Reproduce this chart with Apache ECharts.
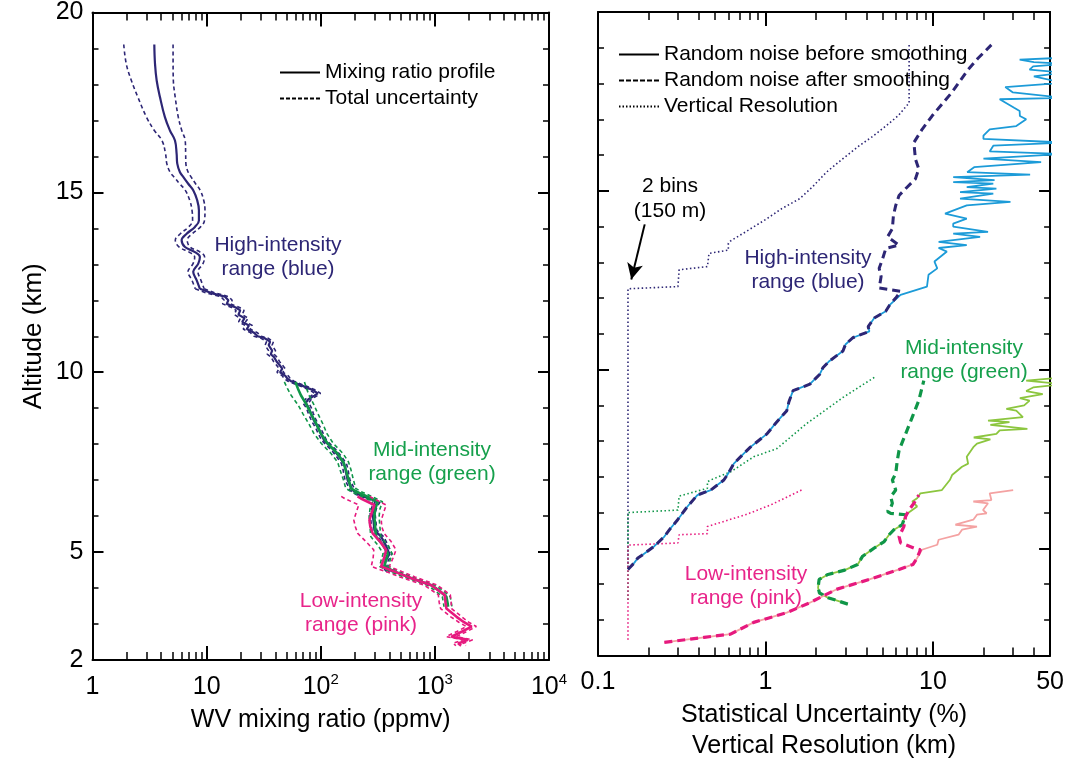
<!DOCTYPE html>
<html><head><meta charset="utf-8">
<script src="https://cdn.jsdelivr.net/npm/echarts@6/dist/echarts.min.js"></script>
<style>html,body{margin:0;padding:0;background:#fff}#c{width:1067px;height:767px}</style>
</head><body><div id="c"></div><script>
// ---------- tick values / labels ----------
const xLeftLabels = [1, 10, 100, 1000, 10000];
const xLeftMajor = [10, 100, 1000];
const xLeftMinor = [2,3,4,5,6,7,8,9,20,30,40,50,60,70,80,90,200,300,400,500,600,700,800,900,2000,3000,4000,5000,6000,7000,8000,9000];
const xRightLabels = [0.1, 1, 10, 50];
const xRightMajor = [1, 10];
const xRightMinor = [0.2,0.3,0.4,0.5,0.6,0.7,0.8,0.9,2,3,4,5,6,7,8,9,20,30,40];
const yLabels = [2, 5, 10, 15, 20];
const yMajor = [5, 10, 15, 20];
const yMinor = [3,4,6,7,8,9,11,12,13,14,16,17,18,19];

// ---------- left panel: WV mixing ratio profiles [altitude km, ppmv, total uncertainty %] ----------
const highProfileUpper = [
 [19.11,3.48,46],[18.57,3.53,44],[18.11,3.65,40],[17.65,3.9,36],[17.09,4.31,31],[16.72,4.77,27],[16.44,5.28,23],[16.07,5.46,20],
 [15.8,5.53,19],[15.56,5.84,18],[15.43,6.24,17],[15.24,6.9,16],[15.06,7.63,15],[14.78,8.27,14],[14.5,8.56,13],[14.22,8.56,12],
 [14.04,7.9,12],[13.85,6.68,12],[13.67,6.04,12],[13.48,6.46,11],[13.34,7.9,11],[13.2,8.73,10],[13.02,8.45,10],[12.79,7.63,10],
 [12.56,8.17,9],[12.32,8.73,9]
];
const highProfileLower = [
 [12.32,8.73,9],[12.2,11,9],[12.1,14.5,8],
 [12.0,15.5,8],[11.9,15,8],[11.8,18,8],[11.72,19.7,8],[11.6,19,8],[11.5,21.5,8],[11.4,20.5,7],[11.3,23.5,7],
 [11.2,22.5,7],[11.1,26,7],[11.0,28,7],[10.95,32,7],[10.85,36,7],[10.75,35,7],[10.6,37.5,7],[10.5,36.5,7],
 [10.42,39,6],[10.3,41,6],[10.2,43.5,6],[10.1,46,6],[10.0,44,6],[9.9,49,6],[9.82,51,6],[9.75,55,6],
 [9.7,60,6],[9.6,72,6],[9.5,86,6],[9.41,94,6],[9.35,88,6],[9.25,78,6],[9.15,74,6],[9.0,79,5],
 [8.85,82,5],[8.7,86,5],[8.6,89,5],[8.48,94,5],[8.3,100,5],[8.11,107,5],[7.95,120,5],[7.83,131,5],
 [7.65,145,5],[7.46,160,5],[7.3,165,5],[7.15,168,5],[7.0,172,5],[6.85,182,5],[6.72,190,5],[6.6,215,5],
 [6.5,260,5],[6.4,316,5],[6.25,295,5],[6.07,285,5],[5.85,290,5],[5.61,295,5],[5.43,338,5],[5.2,370,5],
 [4.95,400,5],[4.75,370,5],[4.6,361,5],[4.45,400,5]
];
const midProfile = [
 [9.73,60,20],[9.55,63,19],[9.36,67,18],[9.1,75,16],[8.85,82,15],[8.55,92,14],[8.3,100,13],[8.02,115,12],
 [7.74,140,12],[7.5,158,11],[7.28,166,11],[7.0,176,10],[6.77,184,10],[6.68,205,10],[6.58,241,10],[6.4,316,10],
 [6.2,300,10],[5.98,295,10],[5.7,300,10],[5.43,305,10],[5.2,350,10],[4.96,387,9],[4.75,370,9],[4.6,361,9],
 [4.45,450,9],[4.31,581,8],[4.08,931,8],[3.92,1100,8],[3.76,1262,8],[3.6,1290,8],[3.48,1306,8]
];
const lowProfile = [
 [6.55,210,28],[6.49,225,28],[6.31,295,27],[6.1,280,27],[5.89,267,27],[5.7,272,26],[5.52,285,26],[5.3,330,25],
 [5.06,374,22],[4.85,360,20],[4.6,338,18],[4.45,450,16],[4.31,581,15],[4.08,931,13],[3.81,1219,12],[3.6,1240,12],
 [3.43,1262,11],[3.2,1549,11],[3.05,1800,10],[2.93,2099,10],[2.8,1750,10],[2.65,1397,10],[2.56,1950,10],[2.46,1600,10],[2.4,1700,10]
];

// ---------- right panel: vertical resolution [altitude km, km] ----------
const vresHigh = [[19.08,7.2],[17.46,7.2],[17.1,6.2],[16.81,5.23],[16.5,4.3],[16.26,3.63],[15.9,2.9],[15.52,2.31],[15.1,1.9],
 [14.78,1.6],[14.5,1.25],[14.22,1.02],[13.85,0.76],[13.6,0.62],[13.53,0.6],[13.34,0.6],[13.25,0.46],[12.88,0.45],
 [12.79,0.305],[12.32,0.3],[12.26,0.151],[4.45,0.151]];
const vresMid = [[9.78,4.46],[9.22,2.9],[8.48,1.75],[7.79,1.17],[7.56,0.85],[7.14,0.62],[6.91,0.47],[6.86,0.45],[6.68,0.45],
 [6.46,0.305],[6.07,0.3],[6.0,0.151],[3.5,0.151]];
const vresLow = [[6.63,1.64],[6.21,1.07],[5.94,0.76],[5.61,0.45],[5.41,0.45],[5.38,0.305],[5.15,0.3],[5.09,0.151],[2.37,0.151]];

// ---------- right panel: statistical uncertainty [altitude km, %] ----------
const noiseHighAfter = [[4.41,0.151],[4.6,0.165],[4.73,0.173],[4.82,0.185],[5.06,0.217],[5.33,0.249],[5.55,0.27],[5.8,0.299],
 [6.17,0.342],[6.49,0.392],[6.63,0.471],[6.91,0.564],[7.1,0.6],[7.37,0.647],[7.65,0.741],[7.83,0.812],[8.2,1.02],[8.5,1.15],
 [8.85,1.34],[9.1,1.38],[9.41,1.46],[9.59,1.84],[9.87,2.11],[10.05,2.2],[10.24,2.41],[10.52,2.9],[10.7,3.0],[10.89,3.32],
 [11.07,4.17],[11.2,4.1],[11.44,4.46],[11.63,5.22],[11.8,5.5],[12.0,5.99],[12.19,6.41],[12.28,4.77],[12.6,4.9],[12.83,4.77],
 [13.1,5.0],[13.39,5.23],[13.48,6.27],[13.71,5.35],[13.94,5.72],[14.3,5.8],[14.59,5.99],[14.87,6.27],[15.1,7.0],[15.33,7.85],
 [15.61,8.22],[15.89,7.85],[16.35,7.69],[16.72,8.61],[17.09,9.86],[17.4,11.2],[17.74,12.9],[18.39,16.2],[18.7,18.5],[19.08,22.3]];
const noiseHighBeforeUpper = [[11.81,5.4],[12.09,6.4],[12.32,9.2],[12.65,9.4],[12.83,10.6],[13.02,10.2],[13.3,12.1],[13.4,10.8],
 [13.48,15.9],[13.57,10.8],[13.71,19.1],[13.8,13.2],[13.85,21.3],[14.0,13.2],[14.08,13.2],[14.22,15.9],[14.36,11.8],[14.59,15.9],
 [14.69,29],[14.78,14.5],[14.92,22.9],[14.96,14.5],[15.06,23.9],[15.1,15.9],[15.2,22.9],[15.24,13.2],[15.3,23.3],[15.38,13.2],
 [15.45,38],[15.52,16],[15.66,17.6],[15.8,44.2],[15.9,20],[16.03,60],[16.1,21.8],[16.26,22.9],[16.35,60],[16.45,20],[16.54,20],
 [16.72,21.8],[16.81,31.4],[17.0,36],[17.09,33],[17.23,32.9],[17.32,30.5],[17.56,25],[17.6,60],[17.75,30],[17.9,27],
 [18.02,60],[18.2,40],[18.3,60],[18.39,37.7],[18.48,39.6],[18.55,60],[18.6,40],[18.67,32.9],[18.72,60]];
const noiseMidAfter = [[3.44,3.1],[3.62,2.36],[3.75,2.1],[3.9,2.06],[4.13,2.09],[4.27,2.36],[4.39,2.97],[4.55,3.55],[4.78,3.8],
 [5.01,4.46],[5.19,5.11],[5.38,5.47],[5.52,5.85],[5.66,6.55],[5.8,6.7],[5.94,6.86],[5.98,5.59],[6.03,5.35],[6.15,5.6],[6.26,5.72],
 [6.44,5.59],[6.63,5.99],[6.91,5.72],[7.09,5.99],[7.46,6.12],[7.74,6.27],[8.2,6.86],[8.67,7.52],[9.13,8.22],[9.69,8.81]];
const noiseMidBeforeUpper = [[5.94,6.86],[6.17,8.04],[6.31,7.52],[6.4,8.04],[6.54,8.41],[6.63,11.3],[6.91,12.6],[7.05,13.0],
 [7.28,14.9],[7.37,16.2],[7.56,15.9],[7.83,17.4],[7.93,18.3],[8.05,22],[8.1,17.5],[8.2,23.9],[8.3,25],[8.34,36.6],[8.45,22],
 [8.53,28.6],[8.57,21.3],[8.67,34.4],[8.85,31.4],[8.9,27.4],[9.0,35],[9.13,37.7],[9.2,33],[9.31,45.2],[9.4,36],[9.5,39.6],
 [9.59,60],[9.69,36],[9.78,60]];
const noiseLowAfter = [[2.37,0.249],[2.51,0.43],[2.6,0.618],[2.93,0.85],[3.2,1.34],[3.48,1.84],[3.85,2.64],[4.13,4.17],[4.41,6.27],
 [4.55,7.6],[4.73,8.04],[4.96,8.41],[5.01,7.69],[5.15,6.41],[5.33,6.27],[5.61,6.7],[5.89,6.86],[6.07,7.18],[6.26,7.69],[6.49,8.22]];
const noiseLowBeforeUpper = [[4.96,8.59],[5.1,10.6],[5.24,10.8],[5.38,14.2],[5.52,14.9],[5.61,18.3],[5.66,13.6],[5.7,13.9],
 [5.8,17.4],[5.94,18.3],[5.98,20.9],[6.07,19.9],[6.26,21.3],[6.31,17.4],[6.35,22.3],[6.54,21.8],[6.63,30.1]];

// ---------- styling ----------
const FONT = '"Liberation Sans", Arial, Helvetica, sans-serif';
const NAVY = '#2d2675', GREEN = '#0f9648', PINK = '#e6197e', LBLUE = '#1c9bd8', LGREEN = '#8cc63f', LPINK = '#f4a2a2';
const TXT_GREEN = '#16a04c', TXT_PINK = '#e8248a';

function makeX(gi, min, max, major, minor, labels, fmt, name, nameGap) {
  const base = {type: 'log', logBase: 10, gridIndex: gi, min, max, splitLine: {show: false}};
  const line = {show: true, onZero: false, lineStyle: {color: '#000', width: 2}};
  const tMaj = {show: true, inside: true, length: 14, customValues: major, lineStyle: {color: '#000', width: 2}};
  const tMin = {show: true, inside: true, length: 8, customValues: minor, lineStyle: {color: '#000', width: 1.5}};
  return [
    Object.assign({}, base, {position: 'bottom', axisLine: line, axisTick: tMaj,
      axisLabel: {show: true, customValues: labels, formatter: fmt, color: '#000', margin: 12,
        rich: {b: {fontSize: 25, fontFamily: FONT, color: '#000', lineHeight: 30},
               s: {fontSize: 15, fontFamily: FONT, color: '#000', lineHeight: 30, verticalAlign: 'top'}}},
      name, nameLocation: 'middle', nameGap,
      nameTextStyle: {fontSize: 25, fontFamily: FONT, color: '#000', lineHeight: 31}}),
    Object.assign({}, base, {position: 'bottom', axisLine: {show: false}, axisTick: tMin, axisLabel: {show: false}}),
    Object.assign({}, base, {position: 'top', axisLine: line, axisTick: tMaj, axisLabel: {show: false}}),
    Object.assign({}, base, {position: 'top', axisLine: {show: false}, axisTick: tMin, axisLabel: {show: false}})
  ];
}
function makeY(gi, withLabels) {
  const base = {type: 'value', gridIndex: gi, min: 2, max: 20, splitLine: {show: false}};
  const line = {show: true, onZero: false, lineStyle: {color: '#000', width: 2}};
  const tMaj = {show: true, inside: true, length: 11, customValues: yMajor, lineStyle: {color: '#000', width: 2}};
  const tMin = {show: true, inside: true, length: 6, customValues: yMinor, lineStyle: {color: '#000', width: 1.5}};
  return [
    Object.assign({}, base, {position: 'left', axisLine: line, axisTick: tMaj,
      axisLabel: withLabels ? {show: true, customValues: yLabels, fontSize: 25, fontFamily: FONT, color: '#000', margin: 9} : {show: false},
      name: withLabels ? 'Altitude (km)' : '', nameLocation: 'middle', nameGap: 46, nameRotate: 90,
      nameTextStyle: {fontSize: 26, fontFamily: FONT, color: '#000'}}),
    Object.assign({}, base, {position: 'left', axisLine: {show: false}, axisTick: tMin, axisLabel: {show: false}}),
    Object.assign({}, base, {position: 'right', axisLine: line, axisTick: tMaj, axisLabel: {show: false}}),
    Object.assign({}, base, {position: 'right', axisLine: {show: false}, axisTick: tMin, axisLabel: {show: false}})
  ];
}
const leftFmt = v => {
  const e = Math.round(Math.log10(v));
  if (e === 0) return '{b|1}';
  if (e === 1) return '{b|10}';
  return '{b|10}{s|' + e + '}';
};
const rightFmt = v => '{b|' + String(v) + '}';

const xAxis = [].concat(
  makeX(0, 1, 10000, xLeftMajor, xLeftMinor, xLeftLabels, leftFmt, 'WV mixing ratio (ppmv)', 43),
  makeX(1, 0.1, 50, xRightMajor, xRightMinor, xRightLabels, rightFmt, 'Statistical Uncertainty (%)\nVertical Resolution (km)', 43)
);
const yAxis = [].concat(makeY(0, true), makeY(1, false));

function ser(name, data, gi, color, width, type, z, extra) {
  return Object.assign({
    type: 'line', name, data, xAxisIndex: gi * 4, yAxisIndex: gi * 4,
    symbol: 'none', showSymbol: false, silent: true, animation: false, clip: true, z: z || 2,
    lineStyle: {color, width, type: type || 'solid'}, itemStyle: {color}
  }, extra || {});
}
const toXY = arr => arr.map(p => [p[1], p[0]]);
const lowerB = arr => arr.map(p => [p[1] * (1 - p[2] / 100), p[0]]);
const upperB = arr => arr.map(p => [p[1] * (1 + p[2] / 100), p[0]]);
const before = (after, upper) => after.filter(p => p[0] < upper[0][0]).concat(upper);

const LD = [4, 3], RD = [8, 5], DOT = [1.5, 2.5];
const SM = {smooth: 0.4};
const series = [
  // legend-only entries
  ser('Mixing ratio profile', [], 0, '#000', 2, 'solid'),
  ser('Total uncertainty', [], 0, '#000', 1.5, [4, 2]),
  ser('Random noise before smoothing', [], 1, '#000', 2, 'solid'),
  ser('Random noise after smoothing', [], 1, '#000', 2, [5, 2]),
  ser('Vertical Resolution', [], 1, '#000', 1.5, [1.5, 2]),
  // left panel: high-intensity (smooth upper part + noisy lower part)
  ser('hi-lo-a', lowerB(highProfileUpper), 0, NAVY, 1.6, LD, 3, SM),
  ser('hi-up-a', upperB(highProfileUpper), 0, NAVY, 1.6, LD, 3, SM),
  ser('hi-a', toXY(highProfileUpper), 0, NAVY, 2.2, 'solid', 4, SM),
  ser('hi-lo-b', lowerB(highProfileLower), 0, NAVY, 1.6, LD, 3),
  ser('hi-up-b', upperB(highProfileLower), 0, NAVY, 1.6, LD, 3),
  ser('hi-b', toXY(highProfileLower), 0, NAVY, 2.2, 'solid', 4),
  ser('mid-lo', lowerB(midProfile), 0, GREEN, 1.6, LD, 5),
  ser('mid-up', upperB(midProfile), 0, GREEN, 1.6, LD, 5),
  ser('mid', toXY(midProfile), 0, GREEN, 2.6, 'solid', 6),
  ser('low-lo', lowerB(lowProfile), 0, PINK, 1.6, LD, 7),
  ser('low-up', upperB(lowProfile), 0, PINK, 1.6, LD, 7),
  ser('low', toXY(lowProfile), 0, PINK, 2.6, 'solid', 8),
  // right panel
  ser('vres-hi', toXY(vresHigh), 1, NAVY, 1.6, DOT, 3, {
    markLine: {silent: true, symbol: ['none', 'arrow'], symbolSize: [12, 16], animation: false,
      lineStyle: {color: '#000', width: 2, type: 'solid'}, label: {show: false},
      data: [[{coord: [0.19, 14.06]}, {coord: [0.158, 12.52]}]]}
  }),
  ser('vres-mid', toXY(vresMid), 1, GREEN, 1.6, DOT, 4),
  ser('vres-low', toXY(vresLow), 1, PINK, 1.6, DOT, 5),
  ser('hi-before', toXY(before(noiseHighAfter, noiseHighBeforeUpper)), 1, LBLUE, 1.8, 'solid', 6),
  ser('hi-after', toXY(noiseHighAfter), 1, NAVY, 3, RD, 7),
  ser('mid-before', toXY(before(noiseMidAfter, noiseMidBeforeUpper)), 1, LGREEN, 1.8, 'solid', 8),
  ser('mid-after', toXY(noiseMidAfter), 1, GREEN, 3.2, RD, 9),
  ser('low-before', toXY(before(noiseLowAfter, noiseLowBeforeUpper)), 1, LPINK, 1.8, 'solid', 10),
  ser('low-after', toXY(noiseLowAfter), 1, PINK, 3.2, RD, 11)
];

function txt(text, x, y, color) {
  return {type: 'text', x, y, silent: true, z: 100,
    style: {text, fill: color, font: '21px ' + FONT, textAlign: 'center', textVerticalAlign: 'middle'}};
}
const graphic = [
  txt('High-intensity', 278, 245, NAVY), txt('range (blue)', 278, 269, NAVY),
  txt('Mid-intensity', 432, 450, TXT_GREEN), txt('range (green)', 432, 474, TXT_GREEN),
  txt('Low-intensity', 361, 601, TXT_PINK), txt('range (pink)', 361, 625, TXT_PINK),
  txt('2 bins', 670, 186, '#000'), txt('(150 m)', 670, 211, '#000'),
  txt('High-intensity', 808, 258, NAVY), txt('range (blue)', 808, 282, NAVY),
  txt('Mid-intensity', 964, 348, TXT_GREEN), txt('range (green)', 964, 372, TXT_GREEN),
  txt('Low-intensity', 746, 574, TXT_PINK), txt('range (pink)', 746, 598, TXT_PINK)
];

const legendText = {fontSize: 21, fontFamily: FONT, color: '#000'};
const legendCommon = {orient: 'vertical', itemWidth: 40, itemHeight: 14, selectedMode: false, padding: 0, itemGap: 5,
  textStyle: legendText, itemStyle: {opacity: 0}, inactiveColor: '#000'};
const option = {
  backgroundColor: '#fff',
  animation: false,
  grid: [
    {left: 92.5, top: 12, width: 456.5, height: 648},
    {left: 598, top: 12, width: 455, height: 648}
  ],
  xAxis, yAxis, series, graphic,
  legend: [
    Object.assign({}, legendCommon, {data: ['Mixing ratio profile', 'Total uncertainty'], left: 279, top: 62}),
    Object.assign({}, legendCommon, {data: ['Random noise before smoothing', 'Random noise after smoothing', 'Vertical Resolution'],
      left: 618, top: 44})
  ]
};
const chart = echarts.init(document.getElementById('c'), null, {renderer: 'canvas'});
chart.setOption(option);
</script></body></html>
